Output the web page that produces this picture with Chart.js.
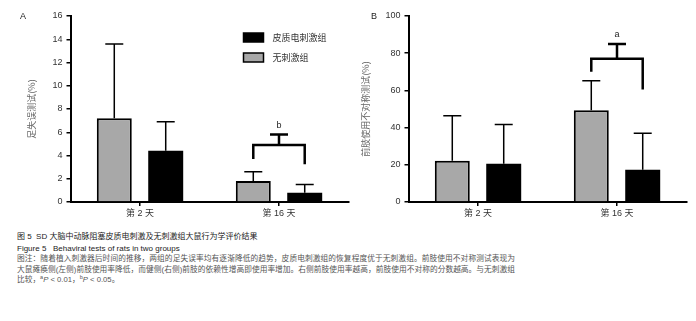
<!DOCTYPE html>
<html>
<head>
<meta charset="utf-8">
<script src="https://cdn.jsdelivr.net/npm/chart.js@4.4.1/dist/chart.umd.min.js"></script>
<style>
  body { margin: 0; background: #fff; width: 696px; height: 321px; position: relative; overflow: hidden;
         font-family: "Liberation Sans", Arial, "Noto Sans CJK SC", sans-serif; }
  canvas { position: absolute; top: 0; }
  #chartA { left: 0; }
  #chartB { left: 350px; }
  .panel { position: absolute; font-size: 9px; color: #222; }
  .cap { position: absolute; left: 17px; font-size: 8px; line-height: 10px; white-space: nowrap; }
  .note { color: #555; font-size: 7.7px; width: 498px; text-align: justify; text-align-last: justify; }
  sup { font-size: 5.5px; line-height: 0; vertical-align: 3px; }
</style>
</head>
<body>
<canvas id="chartA" width="350" height="225"></canvas>
<canvas id="chartB" width="346" height="225"></canvas>
<div class="panel" style="left:20px;top:11px">A</div>
<div class="panel" style="left:371px;top:11px">B</div>

<div class="cap" style="top:232px;color:#222">图 5&nbsp;&nbsp;SD 大脑中动脉阻塞皮质电刺激及无刺激组大鼠行为学评价结果</div>
<div class="cap" style="top:244px;color:#222">Figure 5&nbsp;&nbsp;&nbsp;Behaviral tests of rats in two groups</div>
<div class="cap note" style="top:254px">图注：随着植入刺激器后时间的推移，两组的足失误率均有逐渐降低的趋势，皮质电刺激组的恢复程度优于无刺激组。前肢使用不对称测试表现为</div>
<div class="cap note" style="top:265px">大鼠瘫痪侧(左侧)前肢使用率降低，而健侧(右侧)前肢的依赖性增高即使用率增加。右侧前肢使用率越高，前肢使用不对称的分数越高。与无刺激组</div>
<div class="cap" style="top:275px;color:#555;font-size:7.7px">比较，<sup>a</sup><i>P</i> &lt; 0.01，<sup>b</sup><i>P</i> &lt; 0.05。</div>

<script>
// categorias e series
const days = ['第 2 天', '第 16 天'];
const groupNames = ['无刺激组', '皮质电刺激组'];
const groupColors = ['#a8a8a8', '#000000'];

// A - teste de passo em falso (%)
const footNoStim = [7.2, 1.8];
const footNoStimSd = [6.4, 0.8];
const footStim = [4.4, 0.8];
const footStimSd = [2.5, 0.7];
// colchete de significancia: pernas (esq, dir), barra, topo, rotulo
const footBracket = { group: 1, left: 3.7, right: 3.25, bar: 4.9, top: 5.8, text: 'b' };

// B - assimetria de uso do membro anterior (%)
const limbNoStim = [22.2, 49.3];
const limbNoStimSd = [24.2, 15.9];
const limbStim = [20.6, 17.4];
const limbStimSd = [21.0, 19.5];
const limbBracket = { group: 1, left: 70, right: 60.5, bar: 77, top: 85, text: 'a' };

Chart.defaults.font.family = '"Liberation Sans", Arial, "Noto Sans CJK SC", sans-serif';
Chart.defaults.color = '#333';

const errorBars = {
  id: 'errorBars',
  afterDatasetsDraw(chart) {
    const { ctx, scales: { y } } = chart;
    ctx.save();
    ctx.strokeStyle = '#000';
    ctx.lineWidth = 1.5;
    chart.data.datasets.forEach((ds, i) => {
      chart.getDatasetMeta(i).data.forEach((bar, j) => {
        const top = y.getPixelForValue(ds.data[j] + ds.sd[j]);
        ctx.beginPath();
        ctx.moveTo(bar.x, bar.y);
        ctx.lineTo(bar.x, top);
        ctx.moveTo(bar.x - 9, top);
        ctx.lineTo(bar.x + 9, top);
        ctx.stroke();
      });
    });
    ctx.restore();
  },
};

const bracket = {
  id: 'bracket',
  afterDatasetsDraw(chart, args, b) {
    if (!b || !b.text) return;
    const { ctx, scales: { y } } = chart;
    const x1 = chart.getDatasetMeta(0).data[b.group].x;
    const x2 = chart.getDatasetMeta(1).data[b.group].x;
    const xm = (x1 + x2) / 2;
    const yb = y.getPixelForValue(b.bar);
    const yt = y.getPixelForValue(b.top);
    ctx.save();
    ctx.strokeStyle = '#000';
    ctx.lineWidth = 2.5;
    ctx.beginPath();
    ctx.moveTo(x1, y.getPixelForValue(b.left));
    ctx.lineTo(x1, yb);
    ctx.lineTo(x2, yb);
    ctx.lineTo(x2, y.getPixelForValue(b.right));
    ctx.moveTo(xm, yb);
    ctx.lineTo(xm, yt);
    ctx.moveTo(xm - 9, yt);
    ctx.lineTo(xm + 9, yt);
    ctx.stroke();
    ctx.fillStyle = '#222';
    ctx.font = '9px "Liberation Sans", Arial, sans-serif';
    ctx.textAlign = 'center';
    ctx.textBaseline = 'bottom';
    ctx.fillText(b.text, xm, yt - 5);
    ctx.restore();
  },
};

const boxLegend = {
  id: 'boxLegend',
  afterDraw(chart, args, o) {
    if (!o || !o.show) return;
    const { ctx, chartArea } = chart;
    const x = chartArea.right - 105;
    ctx.save();
    ctx.font = '9px "Noto Sans CJK SC", sans-serif';
    ctx.textBaseline = 'middle';
    ctx.lineWidth = 1.5;
    chart.data.datasets.slice().reverse().forEach((ds, i) => {
      const y = 33 + i * 20;
      ctx.fillStyle = ds.backgroundColor;
      ctx.fillRect(x, y, 20, 9);
      ctx.strokeStyle = '#000';
      ctx.strokeRect(x, y, 20, 9);
      ctx.fillStyle = '#333';
      ctx.fillText(ds.label, x + 29, y + 4.5);
    });
    ctx.restore();
  },
};

function makeChart(id, noStim, noStimSd, stim, stimSd, opts) {
  return new Chart(document.getElementById(id), {
    type: 'bar',
    data: {
      labels: days,
      datasets: [
        { label: groupNames[0], data: noStim, sd: noStimSd, backgroundColor: groupColors[0], borderColor: '#000', borderWidth: 2, borderSkipped: 'bottom' },
        { label: groupNames[1], data: stim, sd: stimSd, backgroundColor: groupColors[1], borderColor: '#000', borderWidth: 0 },
      ],
    },
    options: {
      responsive: false,
      animation: false,
      categoryPercentage: 0.74,
      barPercentage: 0.68,
      layout: { padding: { top: 16, left: 0, right: opts.padRight, bottom: 0 } },
      plugins: {
        legend: { display: false },
        tooltip: { enabled: false },
        bracket: opts.bracket,
        boxLegend: { show: opts.legend },
      },
      scales: {
        x: {
          afterFit: (s) => { s.height = 23; },
          grid: { display: true, offset: false, drawOnChartArea: false, color: '#000', tickLength: 4, lineWidth: 1.5 },
          border: { color: '#000', width: 2 },
          ticks: { color: '#333', font: { size: 9 }, padding: 2 },
        },
        y: {
          min: 0,
          max: opts.max,
          afterFit: (s) => { s.width = opts.axisWidth; },
          grid: { drawOnChartArea: false, color: '#000', tickLength: 4, lineWidth: 1.5 },
          border: { color: '#000', width: 2 },
          ticks: { stepSize: opts.step, color: '#333', font: { size: 9 }, padding: 4,
                   callback: (v) => (v % opts.labelEvery === 0 ? v : '') },
          title: { display: true, text: opts.title, color: '#666', font: { size: 9, family: '"Noto Sans CJK SC", sans-serif' },
                   padding: { top: opts.titlePad, bottom: 0 } },
        },
      },
    },
    plugins: [errorBars, bracket, boxLegend],
  });
}

makeChart('chartA', footNoStim, footNoStimSd, footStim, footStimSd, {
  max: 16, step: 1, labelEvery: 2, axisWidth: 70.5, padRight: 1.5,
  title: '足失误测试(%)', titlePad: 26, bracket: footBracket, legend: true,
});
makeChart('chartB', limbNoStim, limbNoStimSd, limbStim, limbStimSd, {
  max: 100, step: 20, labelEvery: 20, axisWidth: 58.5, padRight: 9.5,
  title: '前肢使用不对称测试(%)', titlePad: 10, bracket: limbBracket, legend: false,
});
</script>
</body>
</html>
